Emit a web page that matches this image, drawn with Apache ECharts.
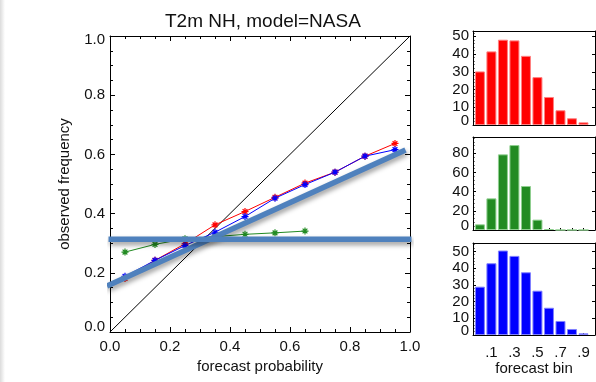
<!DOCTYPE html>
<html>
<head>
<meta charset="utf-8">
<script src="https://cdn.jsdelivr.net/npm/echarts@6/dist/echarts.min.js"></script>
<style>
html, body { margin: 0; padding: 0; background: #fff; }
#chart { width: 596px; height: 382px; }
</style>
</head>
<body>
<div id="chart"></div>
<script>
// Reliability diagram: forecast probability bins and observed frequencies
const probBins = [0.05, 0.15, 0.25, 0.35, 0.45, 0.55, 0.65, 0.75, 0.85, 0.95];
const obsRed   = [0.181, 0.242, 0.298, 0.362, 0.407, 0.455, 0.503, 0.540, 0.594, 0.637];
const obsBlue  = [0.188, 0.242, 0.292, 0.337, 0.390, 0.452, 0.498, 0.540, 0.594, 0.616];
const probGreen = [0.05, 0.15, 0.25, 0.35, 0.45, 0.55, 0.65];
const obsGreen  = [0.270, 0.296, 0.315, 0.322, 0.330, 0.335, 0.341];

// Perfect reliability diagonal
const diagX = [0, 1];
const diagY = [0, 1];
// Fitted reliability line and climatological frequency
const fitX = [-0.01, 0.985];
const fitY = [0.155, 0.615];
const climX = [-0.005, 1.005];
const climY = [0.313, 0.313];

// Forecast-bin histograms (counts per bin)
const histBins  = [0.0, 0.1, 0.2, 0.3, 0.4, 0.5, 0.6, 0.7, 0.8, 0.9];
const histLabels = [0.1, 0.3, 0.5, 0.7, 0.9];
const histRed   = [30.2, 41.5, 48.1, 47.7, 39.0, 27.0, 15.8, 8.3, 3.8, 1.5];
const histGreen = [5.9, 33.0, 78.9, 88.6, 45.9, 10.8, 1.0, 0, 0, 0];
const histBlue  = [28.9, 42.9, 50.5, 47.3, 37.5, 26.5, 16.3, 8.4, 3.6, 1.0];
const countTicks10 = [10, 20, 30, 40, 50];
const countTicks20 = [20, 40, 60, 80];

const FONT = '"Liberation Sans", Arial, Helvetica, sans-serif';
const pairs = (xs, ys) => xs.map((x, i) => [x, ys[i]]);

const chart = echarts.init(document.getElementById('chart'), null, { renderer: 'canvas' });

const axisLineStyle = { show: true, onZero: false, lineStyle: { color: '#000', width: 1 } };

function mainX(gridIndex, showLabels, position) {
  return {
    type: 'value', gridIndex, position, min: 0, max: 1, interval: 0.2,
    axisLine: axisLineStyle,
    axisTick: { show: true, inside: true, length: 5, lineStyle: { color: '#000' } },
    minorTick: { show: true, splitNumber: 4, length: 3, lineStyle: { color: '#000' } },
    splitLine: { show: false },
    axisLabel: {
      show: showLabels, margin: 7, color: '#111', fontSize: 15, fontFamily: FONT,
      formatter: v => v.toFixed(1)
    },
    name: showLabels ? 'forecast probability' : '',
    nameLocation: 'middle', nameGap: 23,
    nameTextStyle: { color: '#111', fontSize: 15, fontFamily: FONT }
  };
}

function mainY(gridIndex, showLabels, position) {
  return {
    type: 'value', gridIndex, position, min: 0, max: 1, interval: 0.2,
    axisLine: axisLineStyle,
    axisTick: { show: true, inside: true, length: 5, lineStyle: { color: '#000' } },
    minorTick: { show: true, splitNumber: 4, length: 3, lineStyle: { color: '#000' } },
    splitLine: { show: false },
    axisLabel: {
      show: showLabels, margin: 5, color: '#111', fontSize: 15, fontFamily: FONT,
      showMinLabel: true, showMaxLabel: true,
      formatter: v => v === 0 ? '{lo|0.0}' : (v === 1 ? '{hi|1.0}' : v.toFixed(1)),
      rich: {
        lo: { fontSize: 15, fontFamily: FONT, color: '#111', padding: [0, 0, 10, 0] },
        hi: { fontSize: 15, fontFamily: FONT, color: '#111', padding: [7, 0, 0, 0] }
      }
    },
    name: showLabels ? 'observed frequency' : '',
    nameLocation: 'middle', nameGap: 38,
    nameTextStyle: { color: '#111', fontSize: 15, fontFamily: FONT }
  };
}

function histX(gridIndex, showLabels, position, ticks) {
  return {
    type: 'value', gridIndex, position, min: -0.06, max: 1.0,
    axisLine: axisLineStyle,
    axisTick: { show: ticks, inside: true, length: 2, customValues: histBins, lineStyle: { color: '#000' } },
    splitLine: { show: false },
    axisLabel: {
      show: showLabels, margin: 10, color: '#111', fontSize: 15, fontFamily: FONT,
      customValues: histLabels,
      formatter: v => v.toFixed(1).replace(/^0/, '')
    },
    name: showLabels ? 'forecast bin' : '',
    nameLocation: 'middle', nameGap: 24,
    nameTextStyle: { color: '#111', fontSize: 15, fontFamily: FONT }
  };
}

function histY(gridIndex, showLabels, position, max, interval, labelValues) {
  return {
    type: 'value', gridIndex, position, min: 0, max, interval,
    axisLine: axisLineStyle,
    axisTick: { show: true, inside: true, length: 3, lineStyle: { color: '#000' } },
    minorTick: { show: showLabels, splitNumber: 5, length: 1.5, lineStyle: { color: '#000' } },
    splitLine: { show: false },
    axisLabel: {
      show: showLabels, margin: 4, color: '#111', fontSize: 15, fontFamily: FONT,
      customValues: labelValues,
      formatter: v => String(v)
    }
  };
}

// Zero label of each histogram sits slightly above the baseline
function histZero(gridIndex, max) {
  return {
    type: 'value', gridIndex, position: 'left', min: 0, max,
    axisLine: { show: false }, axisTick: { show: false },
    splitLine: { show: false }, minorTick: { show: false },
    axisLabel: {
      show: true, margin: 4, customValues: [0],
      formatter: () => '{z|0}',
      rich: { z: { fontSize: 15, fontFamily: FONT, color: '#111', padding: [0, 0, 8, 0] } }
    }
  };
}

const asterisk = 'path://M5,0V10M0,5H10M1.6,1.6L8.4,8.4M1.6,8.4L8.4,1.6';

function relSeries(name, xs, ys, color) {
  return {
    name, type: 'line', xAxisIndex: 0, yAxisIndex: 0,
    data: pairs(xs, ys),
    symbol: asterisk, symbolSize: 7, symbolKeepAspect: true,
    itemStyle: { color: 'none', borderColor: color, borderWidth: 1.2 },
    lineStyle: { color, width: 1 },
    z: 3
  };
}

function thickLine(name, xs, ys) {
  return {
    name, type: 'line', xAxisIndex: 0, yAxisIndex: 0,
    data: pairs(xs, ys), symbol: 'none', clip: false,
    lineStyle: {
      color: '#4f81bd', width: 5.5, cap: 'butt',
      shadowColor: 'rgba(0,0,0,0.4)', shadowBlur: 5, shadowOffsetX: 1, shadowOffsetY: 3
    },
    z: 5
  };
}

function histSeries(name, gridAxis, values, color, edge) {
  return {
    name, type: 'bar', xAxisIndex: gridAxis, yAxisIndex: gridAxis,
    data: pairs(histBins, values), barWidth: 10,
    itemStyle: { color, borderColor: edge, borderWidth: 1 }
  };
}

const option = {
  animation: false,
  backgroundColor: '#fff',
  title: {
    text: 'T2m NH, model=NASA', left: 160, top: 7,
    textStyle: { color: '#111', fontSize: 19, fontWeight: 'normal', fontFamily: FONT }
  },
  graphic: [{
    type: 'rect', shape: { x: 0, y: 0, width: 5, height: 382 }, silent: true,
    style: {
      fill: new echarts.graphic.LinearGradient(0, 0, 1, 0, [
        { offset: 0, color: 'rgba(0,0,0,0.14)' },
        { offset: 1, color: 'rgba(0,0,0,0)' }
      ])
    }
  }],
  grid: [
    { left: 110, top: 36, width: 300, height: 296 },
    { left: 473, top: 31, width: 122, height: 94 },
    { left: 473, top: 137, width: 122, height: 93 },
    { left: 473, top: 243, width: 122, height: 92 }
  ],
  xAxis: [
    mainX(0, true, 'bottom'),
    histX(1, false, 'bottom', true),
    histX(2, false, 'bottom', true),
    histX(3, true, 'bottom', true),
    mainX(0, false, 'top'),
    histX(1, false, 'top', false),
    histX(2, false, 'top', false),
    histX(3, false, 'top', false)
  ],
  yAxis: [
    mainY(0, true, 'left'),
    histY(1, true, 'left', 53, 10, countTicks10),
    histY(2, true, 'left', 97, 20, countTicks20),
    histY(3, true, 'left', 55, 10, countTicks10),
    mainY(0, false, 'right'),
    histY(1, false, 'right', 53, 10, countTicks10),
    histY(2, false, 'right', 97, 20, countTicks20),
    histY(3, false, 'right', 55, 10, countTicks10),
    histZero(1, 53),
    histZero(2, 97),
    histZero(3, 55)
  ],
  series: [
    {
      name: 'perfect reliability', type: 'line', xAxisIndex: 0, yAxisIndex: 0,
      data: pairs(diagX, diagY), symbol: 'none',
      lineStyle: { color: '#000', width: 1 }, z: 2
    },
    relSeries('green', probGreen, obsGreen, '#228b22'),
    relSeries('red', probBins, obsRed, '#ff0000'),
    relSeries('blue', probBins, obsBlue, '#0000ff'),
    thickLine('fit', fitX, fitY),
    thickLine('climatology', climX, climY),
    histSeries('red bins', 1, histRed, '#ff0000', '#ff8080'),
    histSeries('green bins', 2, histGreen, '#228b22', '#8fcf8f'),
    histSeries('blue bins', 3, histBlue, '#0000ff', '#8080ff')
  ]
};

chart.setOption(option);
</script>
</body>
</html>
